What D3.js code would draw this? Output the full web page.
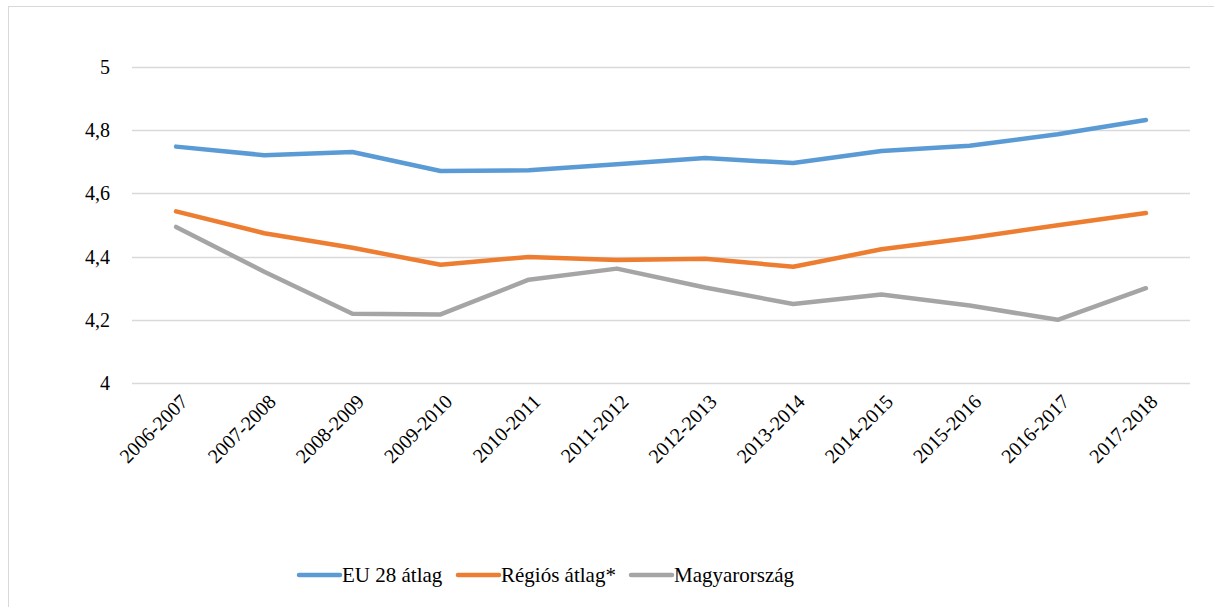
<!DOCTYPE html>
<html>
<head>
<meta charset="utf-8">
<script src="https://cdn.jsdelivr.net/npm/d3@7"></script>
</head>
<body style="margin:0">
<script>
const width = 1214;
const height = 607;

const categories = ["2006-2007", "2007-2008", "2008-2009", "2009-2010", "2010-2011", "2011-2012",
  "2012-2013", "2013-2014", "2014-2015", "2015-2016", "2016-2017", "2017-2018"];
const euValues = [4.748, 4.721, 4.731, 4.671, 4.673, 4.692, 4.712, 4.696, 4.734, 4.751, 4.787, 4.832];
const regionValues = [4.543, 4.474, 4.428, 4.374, 4.399, 4.389, 4.393, 4.368, 4.423, 4.459, 4.499, 4.538];
const huValues = [4.494, 4.352, 4.219, 4.217, 4.327, 4.362, 4.302, 4.250, 4.280, 4.245, 4.200, 4.300];
const yTicks = [4, 4.2, 4.4, 4.6, 4.8, 5];

const series = [
  { name: "EU 28 átlag", values: euValues, color: "#5b9bd5" },
  { name: "Régiós átlag*", values: regionValues, color: "#ed7d31" },
  { name: "Magyarország", values: huValues, color: "#a5a5a5" }
];

const serif = () => '"Times New Roman", "Liberation Serif", serif';

const svg = d3.select("body").append("svg")
    .attr("width", width)
    .attr("height", height);

// outer chart frame
svg.append("rect")
    .attr("x", 8.5).attr("y", 6.5)
    .attr("width", 1214).attr("height", 620)
    .attr("fill", "none").attr("stroke", "#d9d9d9").attr("stroke-width", 1);

const x = d3.scaleBand().domain(categories).range([132, 1190]);
const y = d3.scaleLinear().domain([4, 5]).range([383, 67]);

// gridlines
svg.append("g").selectAll("line").data(yTicks).enter().append("line")
    .attr("x1", 132).attr("x2", 1190)
    .attr("y1", d => Math.round(y(d)) + 0.5).attr("y2", d => Math.round(y(d)) + 0.5)
    .attr("stroke", "#d9d9d9").attr("stroke-width", 1.3);

const fmt = d => String(d).replace(".", ",");

// y axis labels
svg.append("g").selectAll("text").data(yTicks).enter().append("text")
    .attr("x", 110).attr("y", d => y(d) + 7)
    .attr("text-anchor", "end")
    .style("font-family", serif)
    .style("font-size", "20px")
    .text(fmt);

// x axis labels
svg.append("g").selectAll("text").data(categories).enter().append("text")
    .attr("transform", d => `translate(${x(d) + x.bandwidth() / 2 + 8}, 398) rotate(-45)`)
    .attr("y", 7)
    .attr("text-anchor", "end")
    .style("font-family", serif)
    .style("font-size", "20px")
    .text(d => d);

const line = d3.line()
    .x((d, i) => x(categories[i]) + x.bandwidth() / 2)
    .y(d => y(d));

svg.append("g").selectAll("path").data(series).enter().append("path")
    .attr("d", d => line(d.values))
    .attr("fill", "none")
    .attr("stroke", d => d.color)
    .attr("stroke-width", 4.5)
    .attr("stroke-linecap", "round")
    .attr("stroke-linejoin", "round");

// legend
const legendX = [299, 458, 631];
const legend = svg.append("g").selectAll("g").data(series).enter().append("g")
    .attr("transform", (d, i) => `translate(${legendX[i]}, 575)`);
legend.append("line")
    .attr("x1", 0).attr("x2", 41)
    .attr("stroke", d => d.color).attr("stroke-width", 4.5)
    .attr("stroke-linecap", "round");
legend.append("text")
    .attr("x", 43).attr("y", 7)
    .style("font-family", serif)
    .style("font-size", "21px")
    .text(d => d.name);
</script>
</body>
</html>
